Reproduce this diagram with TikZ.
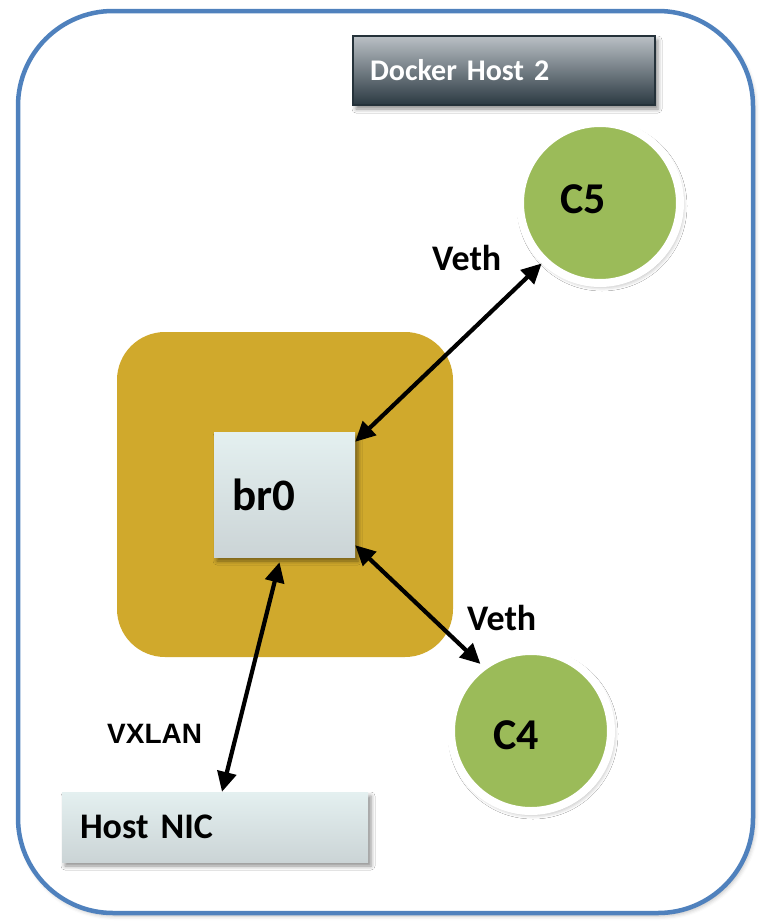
\documentclass[tikz,border=0pt]{standalone}
\usepackage{fontspec}
\setmainfont{Carlito}
\newfontfamily\arialfont{Liberation Sans}
\usetikzlibrary{arrows.meta,shadows.blur,calc}
\definecolor{frameblue}{HTML}{4F81BD}
\definecolor{gold}{HTML}{D0A92C}
\definecolor{cgreen}{HTML}{9BBB59}
\definecolor{boxtop}{HTML}{E4F0F0}
\definecolor{boxbot}{HTML}{CBD4D6}
\definecolor{hosttop}{HTML}{BAC0C5}
\definecolor{hostmid}{HTML}{8C949A}
\definecolor{hostbot}{HTML}{2B3942}
\definecolor{hostedge}{HTML}{25323A}
\tikzset{
  softshadow/.style={blur shadow={shadow xshift=3pt, shadow yshift=-4pt, shadow blur radius=4pt, shadow opacity=45}},
  lightbox/.style={rectangle, top color=boxtop, bottom color=boxbot, inner xsep=18pt, inner ysep=0pt, align=left, softshadow},
  hostbox/.style={rectangle, draw=hostedge, line width=1.2pt, top color=hosttop, middle color=hostmid, bottom color=hostbot, inner xsep=17pt, inner ysep=0pt, align=left, text=white, softshadow},
  container/.style={circle, draw=white, line width=8pt, fill=cgreen, minimum size=160pt, inner sep=0pt, blur shadow={shadow xshift=2pt, shadow yshift=-3pt, shadow blur radius=5pt, shadow opacity=40}},
  ctext/.style={inner sep=0pt, font=\bfseries\fontsize{44}{50}\selectfont},
  lbl/.style={inner sep=0pt, anchor=base west, font=\bfseries\fontsize{36}{40}\selectfont},
  arr/.style={{Triangle[length=20pt,width=19pt]}-{Triangle[length=20pt,width=19pt]}, line width=4.2pt, black}
}
\begin{document}
\begin{tikzpicture}[x=1pt,y=-1pt]
\useasboundingbox (0,0) rectangle (769,924);
% outer frame
\draw[frameblue, line width=4.5pt, rounded corners=95pt, blur shadow={shadow xshift=2pt, shadow yshift=-3pt, shadow blur radius=4pt, shadow opacity=25}, fill=white] (18,11) rectangle (753,913);
% gold area
\fill[gold, rounded corners=48pt] (117,332) rectangle (453,657);
% boxes
\node[hostbox, minimum height=69pt, text width=268pt, font=\bfseries\fontsize{30}{36}\selectfont] (dh) at (504,70.5) {Docker Host 2};
\node[lightbox, minimum height=125pt, text width=105pt, font=\bfseries\fontsize{45}{52}\selectfont] (br0) at (284.5,494.5) {br0};
\node[lightbox, minimum height=70pt, text width=270pt, font=\bfseries\fontsize{36}{42}\selectfont] (nic) at (215,827) {Host NIC};
% containers
\node[container] (c5) at (600,203) {};
\node[ctext] (c5t) at (583,199) {C5};
\node[container] (c4) at (531,731) {};
\node[ctext] (c4t) at (516,735) {C4};
% labels
\node[lbl] (veth1) at (432,270) {Veth};
\node[lbl] (veth2) at (467,630) {Veth};
\node[inner sep=0pt, anchor=base west, font=\arialfont\bfseries\fontsize{28}{32}\selectfont] (vxlan) at (107,743) {VXLAN};
% connectors
\draw[arr] ([yshift=-10pt]br0.north east) -- (c5.226);
\draw[arr] ([yshift=12pt]br0.south east) -- (c4.127);
\draw[arr] ([shift={(-5pt,-5pt)}]br0.south) -- ([xshift=7pt]nic.north);
\end{tikzpicture}
\end{document}
